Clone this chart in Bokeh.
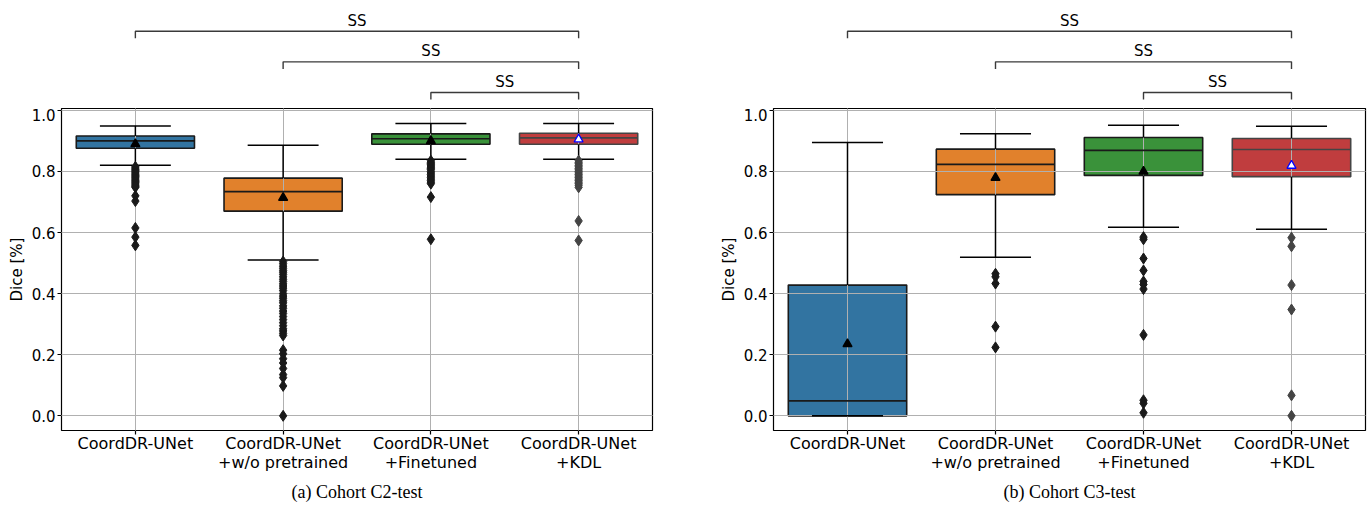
from bokeh.plotting import figure
from bokeh.layouts import row, column
from bokeh.models import FixedTicker, Title, PrintfTickFormatter
from bokeh.core.properties import value
from bokeh.embed import file_html
from bokeh.resources import INLINE

# ---------------- data ----------------
categories = ["CoordDR-UNet", "CoordDR-UNet\n+w/o pretrained",
              "CoordDR-UNet\n+Finetuned", "CoordDR-UNet\n+KDL"]
box_colors = ["#3274a1", "#e1812c", "#3a923a", "#c03d3e"]
edge_colors = ["#1a1a1a", "#1a1a1a", "#1a1a1a", "#444444"]
y_ticks = [0.0, 0.2, 0.4, 0.6, 0.8, 1.0]
sig_pairs = [(2, 3), (1, 3), (0, 3)]
sig_labels = ["SS", "SS", "SS"]
captions = ["(a) Cohort C2-test", "(b) Cohort C3-test"]

# Cohort C2-test
c2_whisker_hi = [0.949, 0.886, 0.957, 0.957]
c2_q3 = [0.916, 0.778, 0.923, 0.925]
c2_median = [0.900, 0.734, 0.907, 0.910]
c2_q1 = [0.876, 0.670, 0.889, 0.889]
c2_whisker_lo = [0.820, 0.510, 0.840, 0.840]
c2_mean = [0.890, 0.714, 0.900, 0.905]
c2_outliers = [
    [0.815, 0.811, 0.807, 0.803, 0.799, 0.795, 0.791, 0.787, 0.783, 0.779,
     0.775, 0.771, 0.767, 0.763, 0.759, 0.755, 0.751, 0.748, 0.720, 0.703,
     0.615, 0.585, 0.558],
    [0.505, 0.498, 0.490, 0.483, 0.476, 0.470, 0.463, 0.455, 0.447, 0.440,
     0.432, 0.425, 0.418, 0.410, 0.400, 0.392, 0.385, 0.377, 0.370, 0.360,
     0.352, 0.343, 0.335, 0.325, 0.315, 0.305, 0.295, 0.285, 0.278, 0.270,
     0.263, 0.215, 0.203, 0.187, 0.173, 0.155, 0.135, 0.125, 0.098, 0.000],
    [0.835, 0.830, 0.826, 0.822, 0.818, 0.814, 0.810, 0.806, 0.800, 0.795,
     0.790, 0.785, 0.780, 0.775, 0.770, 0.765, 0.760, 0.716, 0.578],
    [0.835, 0.830, 0.825, 0.820, 0.815, 0.810, 0.805, 0.800, 0.795, 0.790,
     0.785, 0.780, 0.775, 0.770, 0.765, 0.760, 0.755, 0.748, 0.638, 0.574],
]

# Cohort C3-test
c3_whisker_hi = [0.895, 0.923, 0.951, 0.948]
c3_q3 = [0.428, 0.873, 0.911, 0.908]
c3_median = [0.049, 0.823, 0.869, 0.872]
c3_q1 = [0.000, 0.724, 0.787, 0.783]
c3_whisker_lo = [0.000, 0.519, 0.617, 0.611]
c3_mean = [0.235, 0.779, 0.800, 0.819]
c3_outliers = [
    [],
    [0.465, 0.455, 0.433, 0.292, 0.224],
    [0.585, 0.578, 0.515, 0.476, 0.440, 0.430, 0.415, 0.265, 0.051, 0.041, 0.010],
    [0.583, 0.555, 0.428, 0.348, 0.067, 0.000],
]

mean_fill = ["black", "black", "black", "white"]
mean_line = ["black", "black", "black", "#0000ff"]

FONT = "DejaVu Sans"
Y0, Y1 = -0.048, 1.006      # axes extent
YTOP = 1.358                # room above for brackets
TOP_H = 108                 # pixel height of bracket strip


def bracket_strip(width, border_right, x_range):
    b = figure(width=width, height=TOP_H, x_range=x_range, y_range=(Y1, YTOP),
               output_backend="svg", toolbar_location=None,
               x_axis_type=None, y_axis_type=None,
               min_border_left=61, min_border_right=border_right,
               min_border_top=0, min_border_bottom=0)
    b.outline_line_color = None
    b.grid.visible = False
    leg = 0.023
    bx, by, tx, ty = [], [], [], []
    for k, (a, c) in enumerate(sig_pairs):
        h = 1.058 + 0.1 * k
        bx.append([a, a, c, c])
        by.append([h - leg, h, h, h - leg])
        tx.append((a + c) / 2)
        ty.append(h + 0.005)
    b.multi_line(bx, by, line_color="#3a3a3a", line_width=1.4)
    b.text(tx, ty, text=sig_labels, text_align="center", text_baseline="bottom",
           text_font=value(FONT), text_font_size="15px", text_color="black")
    return b


def panel(whi, q3, med, q1, wlo, mean, outliers, caption, width, border_right):
    p = figure(width=width, height=506 - TOP_H, x_range=(-0.5, 3.5), y_range=(Y0, Y1),
               output_backend="svg", toolbar_location=None,
               min_border_left=61, min_border_right=border_right,
               min_border_top=0, min_border_bottom=74)
    p.outline_line_color = "black"
    p.outline_line_alpha = 1.0
    p.outline_line_width = 1.2
    p.background_fill_color = "white"
    p.border_fill_color = "white"

    xs = list(range(len(categories)))
    # whiskers and caps
    p.segment(xs, q3, xs, whi, line_color="black", line_width=1.5, level="overlay")
    p.segment(xs, q1, xs, wlo, line_color="black", line_width=1.5, level="overlay")
    p.segment([x - 0.24 for x in xs], whi, [x + 0.24 for x in xs], whi,
              line_color="black", line_width=1.5, level="overlay")
    p.segment([x - 0.24 for x in xs], wlo, [x + 0.24 for x in xs], wlo,
              line_color="black", line_width=1.5, level="overlay")
    # boxes
    p.vbar(x=xs, width=0.8, top=q3, bottom=q1, fill_color=box_colors,
           line_color=edge_colors, line_width=1.6)
    p.segment([x - 0.4 for x in xs], med, [x + 0.4 for x in xs], med,
              line_color=edge_colors, line_width=1.6, level="overlay")
    # outliers
    ox, oy, oc = [], [], []
    for i, vals in enumerate(outliers):
        ox += [i] * len(vals)
        oy += vals
        oc += [edge_colors[i]] * len(vals)
    p.scatter(ox, oy, marker="diamond", size=11, fill_color=oc, line_color=oc,
              level="overlay")
    # means
    p.scatter(xs, mean, marker="triangle", size=9, fill_color=mean_fill,
              line_color=mean_line, line_width=1.3, level="overlay")

    # axes
    p.xaxis.ticker = FixedTicker(ticks=xs)
    p.xaxis.major_label_overrides = {i: c for i, c in enumerate(categories)}
    p.yaxis.ticker = FixedTicker(ticks=y_ticks)
    p.yaxis.formatter = PrintfTickFormatter(format="%.1f")
    p.yaxis.axis_label = "Dice [%]"
    p.yaxis.axis_label_text_font_style = "normal"
    p.yaxis.axis_label_text_font = FONT
    p.yaxis.axis_label_text_font_size = "15px"
    p.yaxis.axis_label_text_color = "black"
    p.yaxis.axis_label_standoff = 3
    for ax in (p.xaxis, p.yaxis):
        ax.axis_line_color = None
        ax.major_tick_out = 4
        ax.major_tick_in = 0
        ax.major_tick_line_color = "black"
        ax.major_tick_line_width = 1.2
        ax.minor_tick_line_color = None
        ax.major_label_text_font = FONT
        ax.major_label_text_color = "black"
    p.xaxis.major_label_text_font_size = "16px"
    p.xaxis.major_label_text_line_height = 1.05
    p.yaxis.major_label_text_font_size = "15px"
    p.xaxis.major_label_standoff = -1
    p.yaxis.major_label_standoff = 2

    # grid
    for g in (p.xgrid, p.ygrid):
        g.grid_line_color = "#b0b0b0"
        g.grid_line_width = 1
        g.level = "guide"

    p.add_layout(Title(text=caption, align="center", text_font="Liberation Serif",
                       text_font_size="18px", text_font_style="normal",
                       text_color="black", standoff=9), "below")
    return p


p1 = panel(c2_whisker_hi, c2_q3, c2_median, c2_q1, c2_whisker_lo, c2_mean,
           c2_outliers, captions[0], 712, 60)
p2 = panel(c3_whisker_hi, c3_q3, c3_median, c3_q1, c3_whisker_lo, c3_mean,
           c3_outliers, captions[1], 659, 6)
b1 = bracket_strip(712, 60, p1.x_range)
b2 = bracket_strip(659, 6, p2.x_range)

layout = row(column(b1, p1), column(b2, p2))
open("out.html", "w").write(file_html(layout, INLINE))
